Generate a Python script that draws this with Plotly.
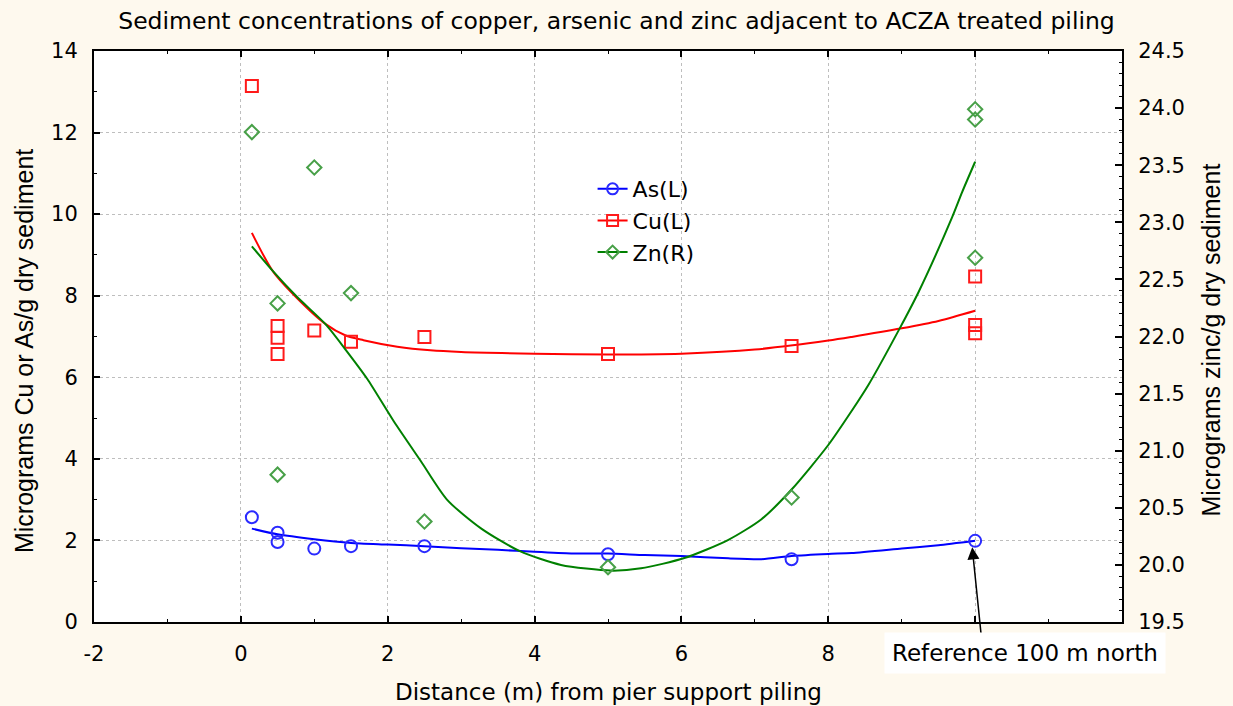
import plotly.graph_objects as go

# ---- data ----
cu_x = [0.15, 0.5, 0.5, 0.5, 1.0, 1.5, 2.5, 5.0, 7.5, 10.0, 10.0, 10.0]
cu_y = [13.14, 7.26, 6.97, 6.57, 7.15, 6.87, 6.99, 6.57, 6.77, 8.47, 7.28, 7.08]

as_x = [0.15, 0.5, 0.5, 1.0, 1.5, 2.5, 5.0, 7.5, 10.0]
as_y = [2.57, 2.19, 1.96, 1.80, 1.86, 1.86, 1.66, 1.54, 1.99]

zn_x = [0.15, 0.5, 0.5, 1.0, 1.5, 2.5, 5.0, 7.5, 10.0, 10.0, 10.0]
zn_y = [23.79, 22.29, 20.79, 23.48, 22.38, 20.38, 19.98, 20.59, 23.99, 23.90, 22.69]

# fitted (smoothed) curves
cu_fit_x = [0.15, 0.44, 0.76, 1.15, 1.42, 1.67, 2.13, 2.58, 3.0, 4.0, 5.0, 6.0, 7.0, 8.0, 8.32, 9.0, 9.5, 10.0]
cu_fit_y = [9.54, 8.59, 7.95, 7.31, 7.03, 6.91, 6.75, 6.66, 6.62, 6.58, 6.56, 6.58, 6.68, 6.90, 6.99, 7.20, 7.38, 7.63]

as_fit_x = [0.15, 0.5, 1.0, 1.5, 2.0, 2.5, 3.0, 3.5, 4.0, 4.5, 5.0, 5.5, 6.0, 6.64, 7.09, 7.5, 8.0, 8.32, 9.0, 9.5, 10.0]
as_fit_y = [2.29, 2.15, 2.03, 1.94, 1.90, 1.86, 1.81, 1.77, 1.72, 1.68, 1.68, 1.64, 1.62, 1.56, 1.54, 1.62, 1.67, 1.69, 1.80, 1.88, 1.99]

zn_fit_x = [0.15, 0.44, 0.76, 1.15, 1.42, 1.72, 2.08, 2.45, 2.81, 3.27, 3.8, 4.36, 5.04, 5.45, 6.04, 6.64, 7.09, 7.5, 8.0, 8.32, 8.55, 8.98, 9.23, 9.69, 9.82, 10.0]
zn_fit_y = [22.79, 22.57, 22.35, 22.11, 21.89, 21.63, 21.26, 20.91, 20.57, 20.32, 20.12, 20.00, 19.95, 19.97, 20.06, 20.22, 20.40, 20.66, 21.05, 21.35, 21.58, 22.08, 22.39, 23.05, 23.26, 23.53]

x_ticks = [-2, 0, 2, 4, 6, 8, 10, 12]
x_ticktext = ["-2", "0", "2", "4", "6", "8", "", ""]

title_text = "Sediment concentrations of copper, arsenic and zinc adjacent to ACZA treated piling"
x_title = "Distance (m) from pier support piling"
y_title = "Micrograms Cu or As/g dry sediment"
y2_title = "Micrograms zinc/g dry sediment"
note_text = "Reference 100 m north"

# ---- styles ----
FONT = "DejaVu Sans, Liberation Sans, sans-serif"
TICKFONT = "DejaVu Sans, Liberation Sans, sans-serif"
YFONT = "Liberation Sans, Arial, sans-serif"
BLUE, RED, GREEN = "#0000FF", "#FF0000", "#008000"
BLUE_M, RED_M, GREEN_M = "#2A2AFF", "#FF1A1A", "#48A048"

fig = go.Figure()

# fitted lines
fig.add_trace(go.Scatter(x=as_fit_x, y=as_fit_y, mode="lines", line=dict(color=BLUE, width=2, shape="spline", smoothing=0.6),
                         showlegend=False, hoverinfo="skip"))
fig.add_trace(go.Scatter(x=cu_fit_x, y=cu_fit_y, mode="lines", line=dict(color=RED, width=2, shape="spline", smoothing=0.8),
                         showlegend=False, hoverinfo="skip"))
fig.add_trace(go.Scatter(x=zn_fit_x, y=zn_fit_y, mode="lines", line=dict(color=GREEN, width=2, shape="spline", smoothing=0.7),
                         showlegend=False, hoverinfo="skip", yaxis="y2"))

# points
fig.add_trace(go.Scatter(x=as_x, y=as_y, mode="markers", showlegend=False,
                         marker=dict(symbol="circle-open", size=12, color=BLUE_M, line=dict(width=2))))
fig.add_trace(go.Scatter(x=cu_x, y=cu_y, mode="markers", showlegend=False,
                         marker=dict(symbol="square-open", size=12, color=RED_M, line=dict(width=2))))
fig.add_trace(go.Scatter(x=zn_x, y=zn_y, mode="markers", showlegend=False, yaxis="y2",
                         marker=dict(symbol="diamond-open", size=11, color=GREEN_M, line=dict(width=2))))

# legend entries
for name, lc, mc, sym, sz in [("As(L)", BLUE, BLUE_M, "circle-open", 11),
                              ("Cu(L)", RED, RED_M, "square-open", 11),
                              ("Zn(R)", GREEN, GREEN_M, "diamond-open", 10)]:
    fig.add_trace(go.Scatter(x=[None], y=[None], mode="lines+markers", name=name,
                             line=dict(color=lc, width=2),
                             marker=dict(symbol=sym, size=sz, color=mc, line=dict(width=2))))

axis_common = dict(showline=True, linecolor="black", linewidth=2, ticks="inside",
                   tickcolor="black", tickfont=dict(family=TICKFONT, size=21, color="black"),
                   zeroline=False)

fig.update_layout(
    width=1233, height=706,
    paper_bgcolor="#FEF9EE", plot_bgcolor="white",
    margin=dict(l=94, r=111, t=51, b=84),
    title=dict(text=title_text, x=0.5, xref="container", xanchor="center", y=0.970, yanchor="middle",
               font=dict(family=FONT, size=23.5, color="black")),
    xaxis=dict(range=[-2, 12], tickvals=x_ticks, ticktext=x_ticktext, mirror="ticks",
               ticklen=6, tickwidth=2, ticklabelstandoff=12,
               showgrid=True, gridcolor="#BEBEBE", griddash="dot", gridwidth=1,
               minor=dict(dtick=1, ticks="inside", ticklen=3, tickcolor="black", tickwidth=1, showgrid=False),
               **axis_common),
    yaxis=dict(range=[0, 14], dtick=2, ticklen=6, tickwidth=2, ticklabelstandoff=10,
               showgrid=True, gridcolor="#BEBEBE", griddash="dot", gridwidth=1,
               minor=dict(dtick=1, ticks="inside", ticklen=3, tickcolor="black", tickwidth=1, showgrid=False),
               **axis_common),
    yaxis2=dict(range=[19.5, 24.5], dtick=0.5, tickformat=".1f", overlaying="y", side="right",
                ticklen=7, tickwidth=2, ticklabelstandoff=10, showgrid=False,
                minor=dict(dtick=0.1, ticks="inside", ticklen=3, tickcolor="black", tickwidth=1, showgrid=False),
                **axis_common),
    legend=dict(x=0.485, y=0.795, xanchor="left", yanchor="top", bgcolor="rgba(0,0,0,0)",
                font=dict(family=FONT, size=22, color="black"), tracegroupgap=0, itemwidth=30),
    showlegend=True,
)

# axis titles as annotations
fig.add_annotation(text=x_title, xref="paper", yref="paper", x=0.5, y=-0.123, xanchor="center",
                   yanchor="middle", showarrow=False, font=dict(family=FONT, size=23, color="black"))
fig.add_annotation(text=y_title, xref="paper", yref="paper", x=-0.0674, y=0.474, xanchor="center",
                   yanchor="middle", textangle=-90, showarrow=False,
                   font=dict(family=YFONT, size=25, color="black"))
fig.add_annotation(text=y2_title, xref="paper", yref="paper", x=1.0866, y=0.493, xanchor="center",
                   yanchor="middle", textangle=-90, showarrow=False,
                   font=dict(family=YFONT, size=25, color="black"))

# arrow to the reference point
fig.add_annotation(text="", x=9.96, y=1.83, xref="x", yref="y", showarrow=True,
                   ax=9, ay=88, arrowhead=2, arrowsize=1.6, arrowwidth=1.5, arrowcolor="black", standoff=0)
# label box
fig.add_annotation(text=note_text, xref="paper", yref="paper", x=0.9056, y=-0.0548, xanchor="center",
                   yanchor="middle", showarrow=False, bgcolor="white", borderpad=7,
                   font=dict(family=FONT, size=23, color="black"))

fig.write_html("out.html")
